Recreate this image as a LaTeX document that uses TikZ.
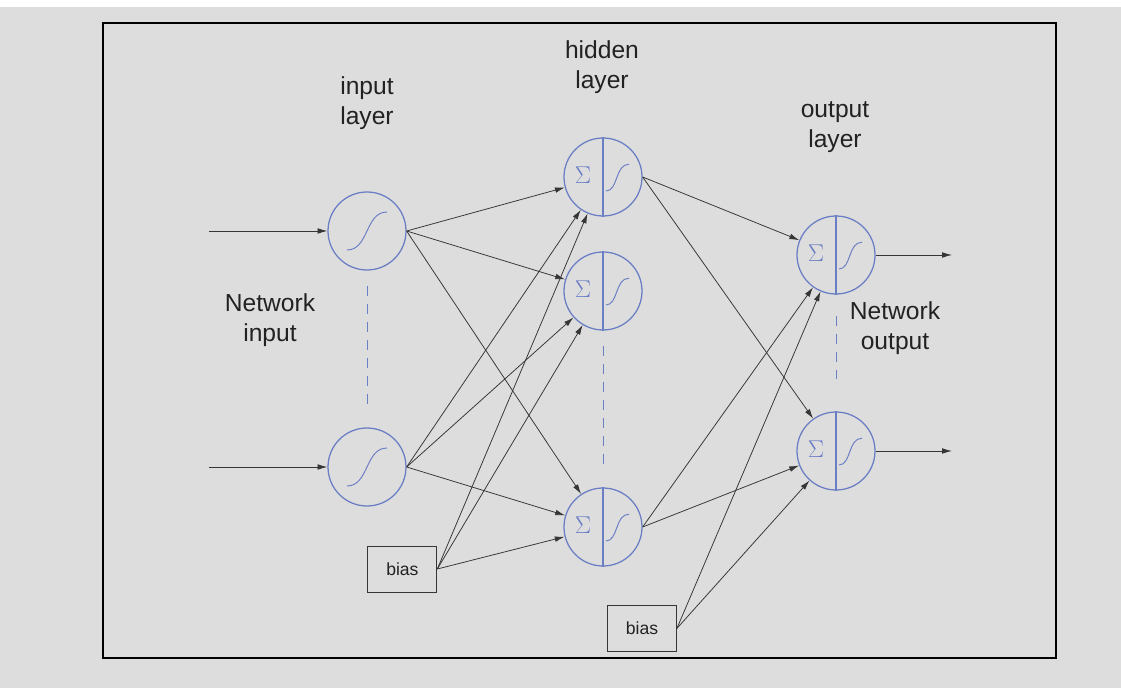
\documentclass[tikz,border=0pt]{standalone}
\usepackage{fontspec}
\setmainfont{Liberation Sans}
\usepackage{xcolor}
\usetikzlibrary{arrows.meta}

\definecolor{paper}{HTML}{DEDDDE}
\definecolor{neuronblue}{HTML}{6A7EC4}
\definecolor{wiregray}{HTML}{363636}
\definecolor{inkgray}{HTML}{222222}

\tikzset{
    neuron/.style={circle, draw=neuronblue, line width=0.9pt, minimum size=1.95cm, inner sep=0pt},
    biasbox/.style={draw=wiregray, line width=0.6pt, minimum width=1.725cm, minimum height=1.15cm,
        text=inkgray, font=\fontsize{12.5}{14}\selectfont},
    wire/.style={wiregray, line width=0.55pt, -{Latex[length=7pt,width=4pt]}},
    layerlabel/.style={align=center, text=inkgray, font=\fontsize{17.5}{21.3}\selectfont},
    sumsign/.style={text=neuronblue, inner sep=0pt, font=\fontsize{16}{18}\selectfont},
    vdots/.style={neuronblue, line width=0.7pt, dash pattern=on 0.25cm off 0.2cm},
}

\begin{document}
\begin{tikzpicture}

    % Paper and frame
    \useasboundingbox (0, 0) rectangle (28.025, 17.2);
    \fill[paper] (0, 0) rectangle (28.025, 17.2);
    \fill[white] (0, 17.025) rectangle (28.025, 17.2);
    \draw[line width=1.4pt] (2.575, 0.75) rectangle (26.4, 16.625);

    % Input layer
    \node[neuron] (in1) at (9.175, 11.425) {};
    \node[neuron] (in2) at (9.175, 5.525) {};

    % Hidden layer
    \node[neuron] (h1) at (15.075, 12.775) {};
    \node[neuron] (h2) at (15.075, 9.925) {};
    \node[neuron] (h3) at (15.075, 4.025) {};

    % Output layer
    \node[neuron] (o1) at (20.9, 10.825) {};
    \node[neuron] (o2) at (20.9, 5.925) {};

    % Bias boxes
    \node[biasbox] (bias1) at (10.06, 2.975) {bias};
    \node[biasbox] (bias2) at (16.05, 1.49) {bias};

    % Sigmoid inside input neurons
    \foreach \n in {in1, in2} {
        \draw[neuronblue, line width=0.7pt, shift={(\n.center)}]
            (-0.5, -0.475) .. controls (0.05, -0.475) and (-0.05, 0.475) .. (0.5, 0.475);
    }

    % Sum and sigmoid halves
    \foreach \n in {h1, h2, h3, o1, o2} {
        \draw[neuronblue, line width=0.8pt] (\n.north) -- (\n.south);
        \node[sumsign] (\n-sum) at ([xshift=-0.5cm, yshift=0.05cm]\n.center) {$\Sigma$};
        \draw[neuronblue, line width=0.7pt, shift={(\n.center)}]
            (0.075, -0.35) .. controls (0.38, -0.35) and (0.3, 0.32) .. (0.65, 0.32);
    }

    % Dashed continuation
    \draw[vdots, shorten <=0.375cm, shorten >=0.525cm] (in1) -- (in2);
    \draw[vdots, shorten <=0.375cm, shorten >=0.45cm] (h2) -- (h3);
    \draw[vdots, shorten <=0.525cm, shorten >=0.8cm] (o1) -- (o2);

    % Network input and output
    \coordinate (x1) at (5.225, 11.425);
    \coordinate (x2) at (5.225, 5.525);
    \coordinate (y1) at (23.8, 10.825);
    \coordinate (y2) at (23.8, 5.925);
    \draw[wire] (x1) -- (in1);
    \draw[wire] (x2) -- (in2);
    \draw[wire] (o1) -- (y1);
    \draw[wire] (o2) -- (y2);

    % Weights
    \foreach \src in {in1, in2} {
        \foreach \dst in {h1, h2, h3} {
            \draw[wire] (\src.east) -- (\dst);
        }
    }
    \foreach \dst in {h1, h2, h3} {
        \draw[wire] (bias1.east) -- (\dst);
    }
    \foreach \src in {h1, h3} {
        \foreach \dst in {o1, o2} {
            \draw[wire] (\src.east) -- (\dst);
        }
    }
    \foreach \dst in {o1, o2} {
        \draw[wire] (bias2.east) -- (\dst);
    }

    % Labels
    \node[layerlabel] (inlabel) at (9.175, 14.625) {input\\layer};
    \node[layerlabel] (hidlabel) at (15.05, 15.525) {hidden\\layer};
    \node[layerlabel] (outlabel) at (20.875, 14.025) {output\\layer};
    \node[layerlabel] (netin) at (6.75, 9.2) {Network\\input};
    \node[layerlabel] (netout) at (22.375, 9.0) {Network\\output};

\end{tikzpicture}
\end{document}
